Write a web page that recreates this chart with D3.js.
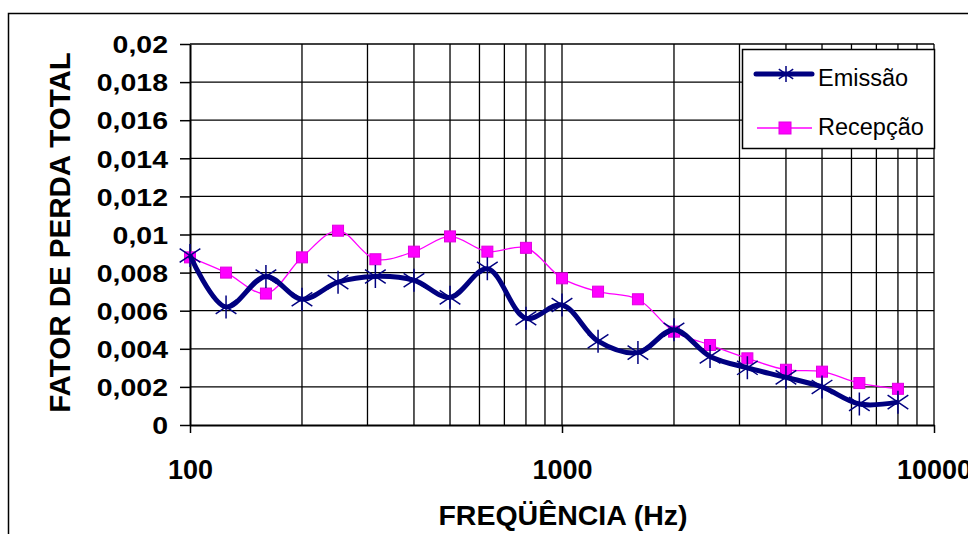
<!DOCTYPE html>
<html>
<head>
<meta charset="utf-8">
<script src="https://cdnjs.cloudflare.com/ajax/libs/d3/7.8.5/d3.min.js"></script>
<style>
  html, body { margin: 0; padding: 0; background: #fff; }
  svg { display: block; font-family: "Liberation Sans", Arial, sans-serif; }
</style>
</head>
<body>
<svg id="chart" width="968" height="534"></svg>
<script>
// 1/3-octave band centre frequencies (Hz)
const frequencies = [100, 125, 160, 200, 250, 315, 400, 500, 630, 800, 1000,
                     1250, 1600, 2000, 2500, 3150, 4000, 5000, 6300, 8000];
// Total loss factor per band
const emissao = [0.0089, 0.0062, 0.0078, 0.0066, 0.0075, 0.0078, 0.0076, 0.0067, 0.0082, 0.0056,
                 0.0063, 0.0044, 0.0038, 0.0050, 0.0036, 0.0030, 0.0025, 0.0020, 0.0011, 0.0012];
const recepcao = [0.0088, 0.0080, 0.0069, 0.0088, 0.0102, 0.0087, 0.0091, 0.0099, 0.0091, 0.0093,
                  0.0077, 0.0070, 0.0066, 0.0049, 0.0042, 0.0035, 0.0029, 0.0028, 0.0022, 0.0019];
const seriesNames = ["Emissão", "Recepção"];
const xTickValues = [100, 1000, 10000];
const yTickValues = [0, 0.002, 0.004, 0.006, 0.008, 0.01, 0.012, 0.014, 0.016, 0.018, 0.02];

const svg = d3.select("#chart");
const m = { left: 190, right: 934, top: 44, bottom: 425 };
const FONT = "'Liberation Sans', Arial, sans-serif";

const x = d3.scaleLog().domain([100, 10000]).range([m.left, m.right]);
const y = d3.scaleLinear().domain([0, 0.02]).range([m.bottom, m.top]);

// outer chart frame
svg.append("rect")
  .attr("x", 8.5).attr("y", 13.5).attr("width", 1000).attr("height", 600)
  .attr("fill", "none").attr("stroke", "#000").attr("stroke-width", 1.5);

// vertical grid: every integer multiple within each decade
const vGrid = [];
for (let d = 100; d < 10000; d *= 10) for (let k = 2; k <= 10; k++) vGrid.push(d * k);
svg.append("g").selectAll("line").data(vGrid).join("line")
  .attr("x1", d => x(d)).attr("x2", d => x(d))
  .attr("y1", m.top).attr("y2", m.bottom)
  .attr("stroke", "#000").attr("stroke-width", 1.3);

// horizontal grid
svg.append("g").selectAll("line").data(yTickValues.slice(1)).join("line")
  .attr("x1", m.left).attr("x2", m.right)
  .attr("y1", d => y(d)).attr("y2", d => y(d))
  .attr("stroke", "#000").attr("stroke-width", 1.3);

// y axis (labels slightly squat: wide bold figures)
const yAxis = d3.axisLeft(y).tickValues(yTickValues)
  .tickFormat(d => d === 0 ? "0" : String(+d.toFixed(3)).replace(".", ","))
  .tickSizeInner(10).tickSizeOuter(0).tickPadding(12);
const gy = svg.append("g").attr("transform", `translate(${m.left},0)`).call(yAxis);
gy.select(".domain").attr("stroke", "#000").attr("stroke-width", 2);
gy.selectAll(".tick line").attr("stroke", "#000").attr("stroke-width", 1.5);
gy.selectAll(".tick text").attr("fill", "#000").attr("dy", "0.36em")
  .attr("transform", "scale(1,0.85)")
  .style("font-size", "28.5px").style("font-weight", "bold").style("font-family", FONT);

// x axis
const xAxis = d3.axisBottom(x).tickValues(xTickValues).tickFormat(d3.format("d"))
  .tickSizeInner(8).tickSizeOuter(0).tickPadding(27);
const gx = svg.append("g").attr("transform", `translate(0,${m.bottom})`).call(xAxis);
gx.select(".domain").attr("stroke", "#000").attr("stroke-width", 2);
gx.selectAll(".tick line").attr("stroke", "#000").attr("stroke-width", 1.5);
gx.selectAll(".tick text").attr("fill", "#000")
  .style("font-size", "27px").style("font-weight", "bold").style("font-family", FONT);

// axis titles
svg.append("text")
  .attr("transform", `translate(70,${(m.top + m.bottom) / 2 - 2}) rotate(-90)`)
  .attr("text-anchor", "middle")
  .style("font-size", "29.5px").style("font-weight", "bold")
  .text("FATOR DE PERDA TOTAL");
svg.append("text")
  .attr("x", 563).attr("y", 525)
  .attr("text-anchor", "middle")
  .style("font-size", "28.5px").style("font-weight", "bold")
  .text("FREQÜÊNCIA (Hz)");

const line = d3.line()
  .x((d, i) => x(frequencies[i]))
  .y(d => y(d))
  .curve(d3.curveCatmullRom.alpha(0.5));

const navy = "#000080", magenta = "#FF00FF";

function star(g, cx, cy, r) {
  const p = `M${cx},${cy - r}L${cx},${cy + r}` +
            `M${cx - r * 0.9},${cy - r * 0.6}L${cx + r * 0.9},${cy + r * 0.6}` +
            `M${cx - r * 0.9},${cy + r * 0.6}L${cx + r * 0.9},${cy - r * 0.6}`;
  g.append("path").attr("d", p).attr("stroke", navy).attr("stroke-width", 1.5).attr("fill", "none");
}

// Recepção series
svg.append("path").datum(recepcao).attr("d", line)
  .attr("fill", "none").attr("stroke", magenta).attr("stroke-width", 1.3);
svg.append("g").selectAll("rect").data(recepcao).join("rect")
  .attr("x", (d, i) => x(frequencies[i]) - 5.5).attr("y", d => y(d) - 5.5)
  .attr("width", 11).attr("height", 11)
  .attr("fill", magenta).attr("stroke", "#e000e0").attr("stroke-width", 1);

// Emissão series
svg.append("path").datum(emissao).attr("d", line)
  .attr("fill", "none").attr("stroke", navy).attr("stroke-width", 5)
  .attr("stroke-linejoin", "round");
const gStars = svg.append("g");
emissao.forEach((d, i) => star(gStars, x(frequencies[i]), y(d), 11.5));

// legend
const lg = svg.append("g");
lg.append("rect").attr("x", 742.5).attr("y", 49.5).attr("width", 192).attr("height", 99)
  .attr("fill", "#fff").attr("stroke", "#000").attr("stroke-width", 1.5);
lg.append("line").attr("x1", 756).attr("x2", 812).attr("y1", 74).attr("y2", 74)
  .attr("stroke", navy).attr("stroke-width", 5).attr("stroke-linecap", "round");
star(lg, 786, 74, 8);
lg.append("text").attr("x", 818).attr("y", 86).style("font-size", "23.5px").text(seriesNames[0]);
lg.append("line").attr("x1", 757).attr("x2", 812).attr("y1", 128).attr("y2", 128)
  .attr("stroke", magenta).attr("stroke-width", 1.3);
lg.append("rect").attr("x", 779).attr("y", 122).attr("width", 12).attr("height", 12)
  .attr("fill", magenta).attr("stroke", "#e000e0");
lg.append("text").attr("x", 818).attr("y", 135).style("font-size", "23.5px").text(seriesNames[1]);
</script>
</body>
</html>
